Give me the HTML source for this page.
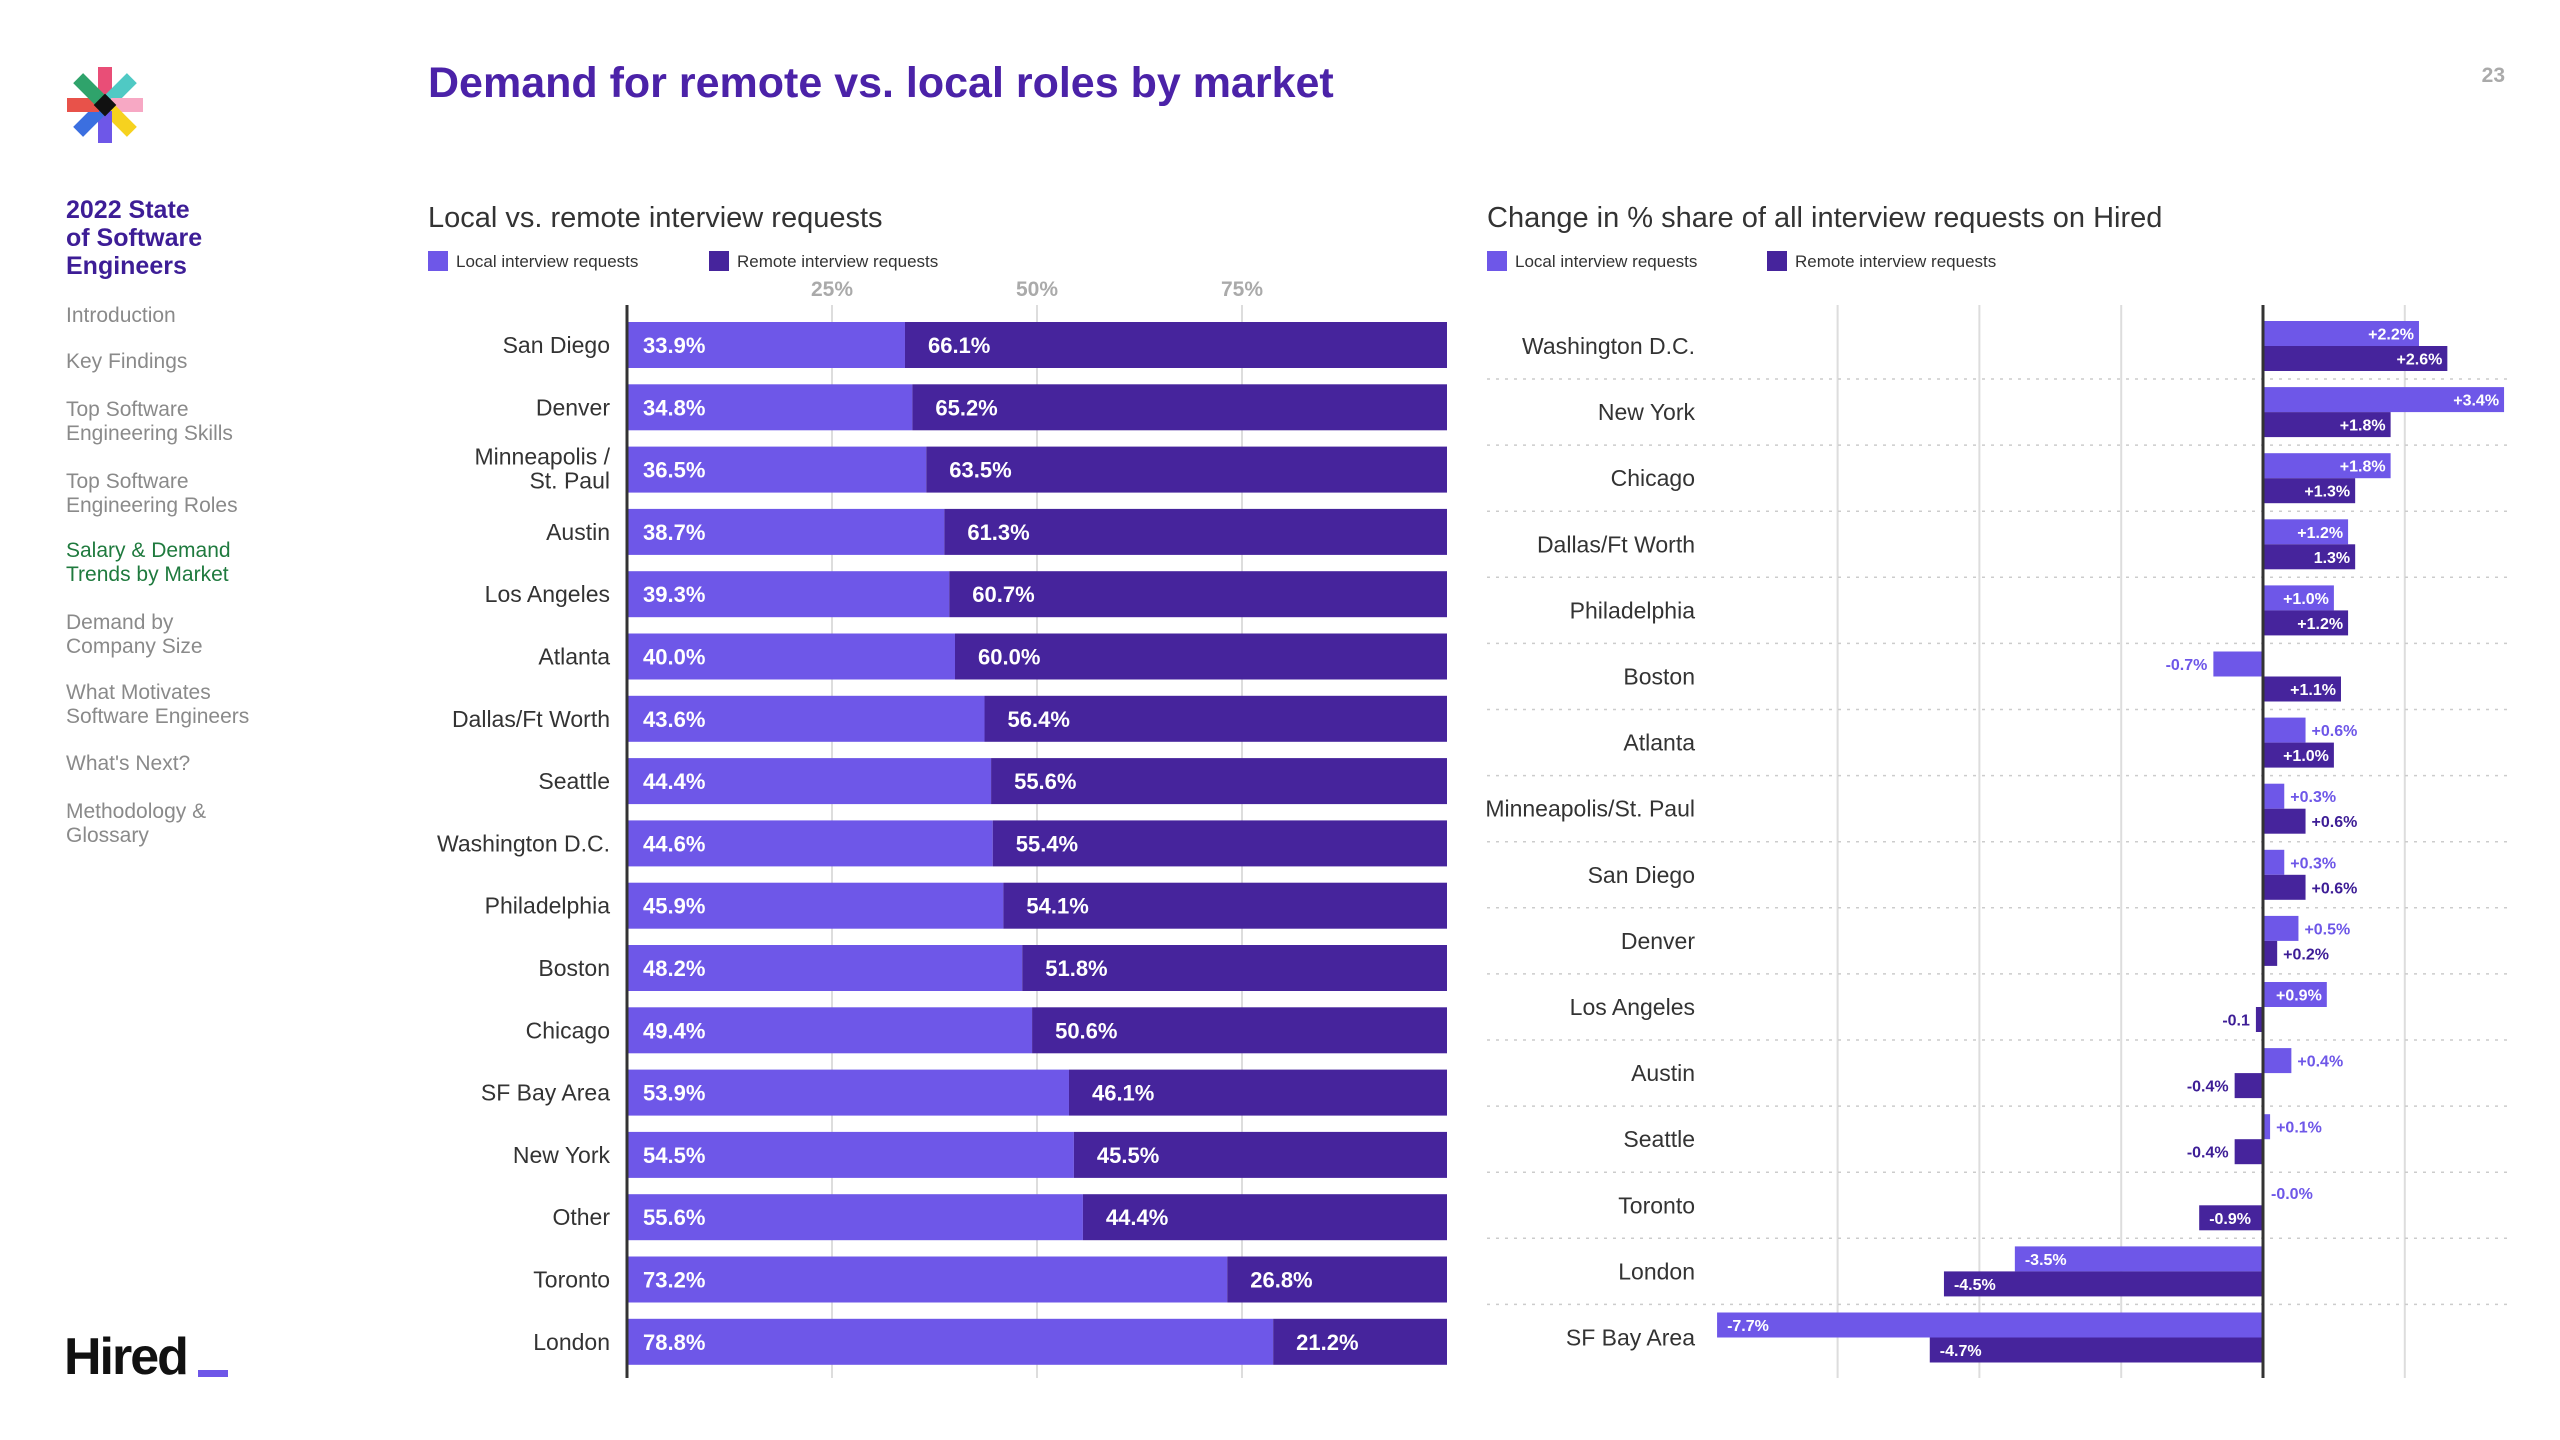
<!DOCTYPE html>
<html><head><meta charset="utf-8"><title>Demand for remote vs. local roles by market</title>
<style>
html,body{margin:0;padding:0;background:#fff;}
body{width:2560px;height:1440px;overflow:hidden;font-family:"Liberation Sans",sans-serif;}
svg{display:block}
</style></head><body>
<svg id="page" width="2560" height="1440" viewBox="0 0 2560 1440" xmlns="http://www.w3.org/2000/svg" font-family="Liberation Sans, sans-serif">
<g transform="translate(105,105)">
  <rect x="-7" y="-38" width="14" height="32" fill="#e94e77" transform="rotate(0)"/>
  <rect x="-7" y="-38" width="14" height="32" fill="#4fc9c4" transform="rotate(45)"/>
  <rect x="-7" y="-38" width="14" height="32" fill="#f7a8c4" transform="rotate(90)"/>
  <rect x="-7" y="-38" width="14" height="32" fill="#f6d21f" transform="rotate(135)"/>
  <rect x="-7" y="-38" width="14" height="32" fill="#6e57e8" transform="rotate(180)"/>
  <rect x="-7" y="-38" width="14" height="32" fill="#3b6fe0" transform="rotate(225)"/>
  <rect x="-7" y="-38" width="14" height="32" fill="#e8524a" transform="rotate(270)"/>
  <rect x="-7" y="-38" width="14" height="32" fill="#2fa36b" transform="rotate(315)"/>
  <rect x="-8" y="-8" width="16" height="16" fill="#111" transform="rotate(45)"/>
</g>
<text x="428" y="97" font-size="43" font-weight="bold" fill="#4b22a8">Demand for remote vs. local roles by market</text>
<text x="2505" y="82" font-size="21" font-weight="bold" fill="#aaa" text-anchor="end">23</text>

<g font-size="21" fill="#8a8a8a">
  <text x="66" y="218" font-size="25" font-weight="bold" fill="#3d1d96">2022 State</text>
  <text x="66" y="246" font-size="25" font-weight="bold" fill="#3d1d96">of Software</text>
  <text x="66" y="274" font-size="25" font-weight="bold" fill="#3d1d96">Engineers</text>
  <text x="66" y="322">Introduction</text>
  <text x="66" y="368">Key Findings</text>
  <text x="66" y="416">Top Software<tspan x="66" dy="24">Engineering Skills</tspan></text>
  <text x="66" y="488">Top Software<tspan x="66" dy="24">Engineering Roles</tspan></text>
  <text x="66" y="557" fill="#1f7a3e">Salary &amp; Demand<tspan x="66" dy="24">Trends by Market</tspan></text>
  <text x="66" y="629">Demand by<tspan x="66" dy="24">Company Size</tspan></text>
  <text x="66" y="699">What Motivates<tspan x="66" dy="24">Software Engineers</tspan></text>
  <text x="66" y="770">What's Next?</text>
  <text x="66" y="818">Methodology &amp;<tspan x="66" dy="24">Glossary</tspan></text>
</g>
<g>
  <text x="64" y="1374" font-size="52" font-weight="bold" fill="#111" letter-spacing="-2">Hired</text>
  <rect x="198" y="1370" width="30" height="7" fill="#6e57e8"/>
</g>

<text x="428" y="227" font-size="29" fill="#333">Local vs. remote interview requests</text>
<rect x="428" y="251" width="20" height="20" fill="#6e57e8"/>
<text x="456" y="267" font-size="17" fill="#333">Local interview requests</text>
<rect x="709" y="251" width="20" height="20" fill="#46249c"/>
<text x="737" y="267" font-size="17" fill="#333">Remote interview requests</text>

<text x="1487" y="227" font-size="29" fill="#333">Change in % share of all interview requests on Hired</text>
<rect x="1487" y="251" width="20" height="20" fill="#6e57e8"/>
<text x="1515" y="267" font-size="17" fill="#333">Local interview requests</text>
<rect x="1767" y="251" width="20" height="20" fill="#46249c"/>
<text x="1795" y="267" font-size="17" fill="#333">Remote interview requests</text>

<g id="left-chart"></g>
<g id="right-chart"></g>
</svg>
<script>
const leftCities = ["San Diego","Denver","Minneapolis /|St. Paul","Austin","Los Angeles","Atlanta","Dallas/Ft Worth","Seattle","Washington D.C.","Philadelphia","Boston","Chicago","SF Bay Area","New York","Other","Toronto","London"];
const leftLocal = [33.9,34.8,36.5,38.7,39.3,40.0,43.6,44.4,44.6,45.9,48.2,49.4,53.9,54.5,55.6,73.2,78.8];
const leftRemote = [66.1,65.2,63.5,61.3,60.7,60.0,56.4,55.6,55.4,54.1,51.8,50.6,46.1,45.5,44.4,26.8,21.2];
const leftTicks = [25,50,75];

const rightCities = ["Washington D.C.","New York","Chicago","Dallas/Ft Worth","Philadelphia","Boston","Atlanta","Minneapolis/St. Paul","San Diego","Denver","Los Angeles","Austin","Seattle","Toronto","London","SF Bay Area"];
const rightLocal = [2.2,3.4,1.8,1.2,1.0,-0.7,0.6,0.3,0.3,0.5,0.9,0.4,0.1,-0.0,-3.5,-7.7];
const rightRemote = [2.6,1.8,1.3,1.3,1.2,1.1,1.0,0.6,0.6,0.2,-0.1,-0.4,-0.4,-0.9,-4.5,-4.7];
const rightLocalLabels = ["+2.2%","+3.4%","+1.8%","+1.2%","+1.0%","-0.7%","+0.6%","+0.3%","+0.3%","+0.5%","+0.9%","+0.4%","+0.1%","-0.0%","-3.5%","-7.7%"];
const rightRemoteLabels = ["+2.6%","+1.8%","+1.3%","1.3%","+1.2%","+1.1%","+1.0%","+0.6%","+0.6%","+0.2%","-0.1","-0.4%","-0.4%","-0.9%","-4.5%","-4.7%"];
const rightGrid = [-6,-4,-2,2];

const NS="http://www.w3.org/2000/svg";
const LOCAL="#6e57e8", REMOTE="#46249c";
function mk(parent,tag,attrs,text){const e=document.createElementNS(NS,tag);for(const k in attrs)e.setAttribute(k,attrs[k]);if(text!==undefined)e.textContent=text;parent.appendChild(e);return e;}

// Left chart
const L=document.getElementById('left-chart');
const lx0=627, lx1=1447, ly0=305, ly1=1378, lStep=62.3, lFirst=345, lBarH=46;
const lx=v=>lx0+(lx1-lx0)*v/100;
const ly=i=>lFirst+i*lStep;
leftTicks.forEach(t=>{
  const g=mk(L,'line',{x1:lx(t),x2:lx(t),y1:ly0,y2:ly1,stroke:"#ddd","stroke-width":2});
  
  
  const tx=mk(L,'text',{x:lx(t),y:296,"font-size":21,"font-weight":"bold",fill:"#aaa","text-anchor":"middle"},t+"%");
  
  
});
leftCities.forEach((c,i)=>{
  const y=ly(i);
  const parts=c.split('|');
  const lab=mk(L,'text',{x:610,"font-size":23,fill:"#333","text-anchor":"end"});
  
  
  if(parts.length===1){lab.setAttribute('y',y+8);lab.textContent=c;}
  else{lab.setAttribute('y',y-5);mk(lab,'tspan',{x:610},parts[0]);mk(lab,'tspan',{x:610,dy:24},parts[1]);}
  const a=leftLocal[i], b=leftRemote[i];
  const r1=mk(L,'rect',{x:lx(0),y:y-lBarH/2,width:lx(a)-lx(0),height:lBarH,fill:LOCAL});
  
  
  const r2=mk(L,'rect',{x:lx(a),y:y-lBarH/2,width:lx(a+b)-lx(a),height:lBarH,fill:REMOTE});
  
  
  const t1=mk(L,'text',{x:lx(0)+16,y:y+8,"font-size":22,"font-weight":"bold",fill:"#fff"},a.toFixed(1)+"%");
  
  
  const t2=mk(L,'text',{x:lx(a)+23,y:y+8,"font-size":22,"font-weight":"bold",fill:"#fff"},b.toFixed(1)+"%");
  
  
});
const la=mk(L,'line',{x1:lx0,x2:lx0,y1:ly0,y2:ly1,stroke:"#333","stroke-width":3});



// Right chart
const R=document.getElementById('right-chart');
const rz=2263, rUnit=70.9, ry0=305, ry1=1378, rFirst=346, rStep=66.1, rBH=25;
const rx=v=>rz+v*rUnit;
const ry=i=>rFirst+i*rStep;
rightGrid.forEach(t=>{
  const g=mk(R,'line',{x1:rx(t),x2:rx(t),y1:ry0,y2:ry1,stroke:"#ddd","stroke-width":2});
  
  
});
rightCities.forEach((c,i)=>{
  const y=ry(i);
  if(i<rightCities.length-1){
    const d=mk(R,'line',{x1:1487,x2:2510,y1:y+33,y2:y+33,stroke:"#ccc","stroke-width":1.5,"stroke-dasharray":"3 6"});
    
    
  }
  const lab=mk(R,'text',{x:1695,y:y+8,"font-size":23,fill:"#333","text-anchor":"end"},c);
  
  
  [[rightLocal[i],rightLocalLabels[i],LOCAL,"#6e57e8",y-rBH,'bar-local-change'],[rightRemote[i],rightRemoteLabels[i],REMOTE,"#3d1d96",y,'bar-remote-change']].forEach(([v,s,col,tcol,top,nm])=>{
    const x0=Math.min(rx(0),rx(v)), w=Math.abs(rx(v)-rx(0));
    const r=mk(R,'rect',{x:x0,y:top,width:w,height:rBH,fill:col});
    
    
    const inside=Math.abs(v)>=0.85;
    let tx,anchor,fill;
    if(v>0||(v===0&&s.indexOf('-')!==0)){ if(inside){tx=rx(v)-5;anchor="end";fill="#fff";}else{tx=rx(v)+6;anchor="start";fill=tcol;} }
    else if(v===0){tx=rx(0)+8;anchor="start";fill=tcol;}
    else { if(inside){tx=rx(v)+10;anchor="start";fill="#fff";}else{tx=rx(v)-6;anchor="end";fill=tcol;} }
    const t=mk(R,'text',{x:tx,y:top+rBH/2+6,"font-size":16,"font-weight":"bold",fill:fill,"text-anchor":anchor},s);
    
    
  });
});
const ra=mk(R,'line',{x1:rz,x2:rz,y1:ry0,y2:ry1,stroke:"#333","stroke-width":3});


</script>
</body></html>
